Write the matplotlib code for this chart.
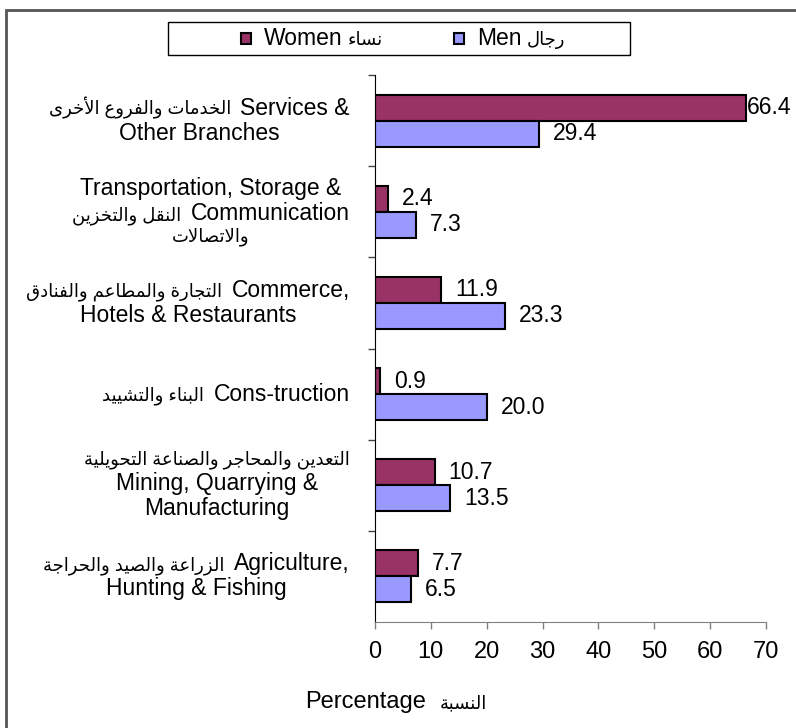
import matplotlib
matplotlib.use("Agg")
import matplotlib.pyplot as plt
from matplotlib.patches import Rectangle
from matplotlib.offsetbox import TextArea, HPacker, VPacker, DrawingArea, AnnotationBbox
from matplotlib.transforms import blended_transform_factory

plt.rcParams['font.family'] = ['Liberation Sans', 'DejaVu Sans']
plt.rcParams['font.size'] = 16.5
AR_SIZE = 13

# matplotlib has no Arabic shaping, so map letters to presentation forms
# and reverse them into visual (left-to-right) order
AR_ORDER = "ءآأؤإئابةتثجحخدذرزسشصضطظعغفقكلمنهوىي"
AR_NFORMS = [1, 2, 2, 2, 2, 4, 2, 4, 2, 4, 4, 4, 4, 4, 2, 2, 2, 2, 4, 4,
             4, 4, 4, 4, 4, 4, 4, 4, 4, 4, 4, 4, 4, 2, 2, 4]
FORMS = {}
_base = 0xFE80
for _ch, _n in zip(AR_ORDER, AR_NFORMS):
    FORMS[_ch] = (_base, _n)
    _base += _n
LAMALEF = {'لآ': 0xFEF5, 'لأ': 0xFEF7, 'لإ': 0xFEF9, 'لا': 0xFEFB}


def ar(s):
    chars = []
    i = 0
    while i < len(s):
        if s[i] == 'ل' and i + 1 < len(s) and s[i + 1] in 'آأإا':
            chars.append(s[i:i + 2])
            i += 2
        else:
            chars.append(s[i])
            i += 1

    def joins_next(c):
        return c in FORMS and FORMS[c][1] == 4

    def joins_prev(c):
        return (c in FORMS and c != 'ء') or c in LAMALEF

    out = []
    for k, c in enumerate(chars):
        prev = chars[k - 1] if k > 0 else ''
        nxt = chars[k + 1] if k + 1 < len(chars) else ''
        p = joins_next(prev)
        if c in LAMALEF:
            out.append(chr(LAMALEF[c] + (1 if p else 0)))
            continue
        if c not in FORMS:
            out.append(c)
            continue
        b, n = FORMS[c]
        nx = joins_prev(nxt) and n == 4
        if n == 1:
            idx = 0
        elif n == 2:
            idx = 1 if p else 0
        else:
            idx = (3 if nx else 1) if p else (2 if nx else 0)
        out.append(chr(b + idx))
    return ''.join(out)[::-1]


def is_arabic(s):
    return any(c in FORMS for c in s)


def piece_box(s, size=16.5):
    if is_arabic(s):
        return TextArea(ar(s), textprops=dict(fontsize=AR_SIZE))
    return TextArea(s, textprops=dict(fontsize=size))


# data (top to bottom); each line is a list of pieces, left to right as shown
categories = [
    [['الخدمات والفروع الأخرى', 'Services &'], ['Other Branches']],
    [['Transportation, Storage &'], ['النقل والتخزين', 'Communication'], ['والاتصالات']],
    [['التجارة والمطاعم والفنادق', 'Commerce,'], ['Hotels & Restaurants']],
    [['البناء والتشييد', 'Cons-truction']],
    [['التعدين والمحاجر والصناعة التحويلية'], ['Mining, Quarrying &'], ['Manufacturing']],
    [['الزراعة والصيد والحراجة', 'Agriculture,'], ['Hunting & Fishing']],
]
women = [66.4, 2.4, 11.9, 0.9, 10.7, 7.7]
men = [29.4, 7.3, 23.3, 20.0, 13.5, 6.5]
women_label = ['Women', 'نساء']
men_label = ['Men', 'رجال']
xlabel = ['Percentage', 'النسبة']

women_color = '#993366'
men_color = '#9999FF'

fig = plt.figure(figsize=(7.96, 7.28), dpi=100)
ax = fig.add_axes([375 / 796, 1 - 622 / 728, 391 / 796, 547 / 728])

ypos = list(range(len(categories)))
h = 0.285
ax.barh([y - h / 2 for y in ypos], women, height=h, color=women_color,
        edgecolor='black', linewidth=1.5)
ax.barh([y + h / 2 for y in ypos], men, height=h, color=men_color,
        edgecolor='black', linewidth=1.5)

for y, v in zip(ypos, women):
    off = 10 if v < 60 else 1
    ax.annotate(f'{v:.1f}', (v, y - h / 2), xytext=(off, 0),
                textcoords='offset points', va='center', ha='left')
for y, v in zip(ypos, men):
    ax.annotate(f'{v:.1f}', (v, y + h / 2), xytext=(10, 0),
                textcoords='offset points', va='center', ha='left')

ax.set_xlim(0, 70)
ax.set_xticks(range(0, 71, 10))
ax.set_ylim(len(categories) - 0.5, -0.5)
ax.set_yticks([y - 0.5 for y in range(len(categories))])
ax.set_yticklabels([])
ax.tick_params(axis='y', length=5, width=1, color='#444444')
ax.tick_params(axis='x', length=5, width=1, color='#808080', pad=9,
               labelsize=17)

for s in ['top', 'right']:
    ax.spines[s].set_visible(False)
ax.spines['left'].set_color('black')
ax.spines['bottom'].set_color('#808080')

# category labels: mixed Arabic / English blocks, centred lines
trans = blended_transform_factory(ax.transAxes, ax.transData)
for y, lines in zip(ypos, categories):
    rows = [HPacker(children=[piece_box(p) for p in line], align='baseline',
                    pad=0, sep=7) for line in lines]
    block = VPacker(children=rows, align='center', pad=0, sep=1.5)
    ab = AnnotationBbox(block, (-0.064, y), xycoords=trans,
                        box_alignment=(1, 0.5), frameon=False)
    ax.add_artist(ab)

# x axis title
xl = HPacker(children=[piece_box(p, 17) for p in xlabel], align='baseline',
             pad=0, sep=10)
fig.add_artist(AnnotationBbox(xl, (396 / 796, 1 - 702 / 728),
                              xycoords='figure fraction', frameon=False))


# legend with its own frame
def legend_item(color, parts):
    da = DrawingArea(7.5, 7.5)
    da.add_artist(Rectangle((0, 0), 7.5, 7.5, facecolor=color,
                            edgecolor='black', linewidth=1.5))
    txt = HPacker(children=[piece_box(p) for p in parts], align='baseline',
                  pad=0, sep=4)
    return HPacker(children=[da, txt], align='center', pad=0, sep=9)


fig.add_artist(Rectangle((168 / 796, 1 - 55 / 728), 462 / 796, 33 / 728,
                         transform=fig.transFigure, fill=False,
                         edgecolor='black', linewidth=1))
leg = HPacker(children=[legend_item(women_color, women_label),
                        legend_item(men_color, men_label)],
              align='center', pad=0, sep=51)
fig.add_artist(AnnotationBbox(leg, (403 / 796, 1 - 38.5 / 728),
                              xycoords='figure fraction', frameon=False))

# outer chart border
fig.add_artist(Rectangle((6 / 796, -0.1), 1.2, 1.1 - 10 / 728,
                         transform=fig.transFigure, fill=False,
                         edgecolor='#555555', linewidth=2))

plt.savefig('out.png', dpi=100)
